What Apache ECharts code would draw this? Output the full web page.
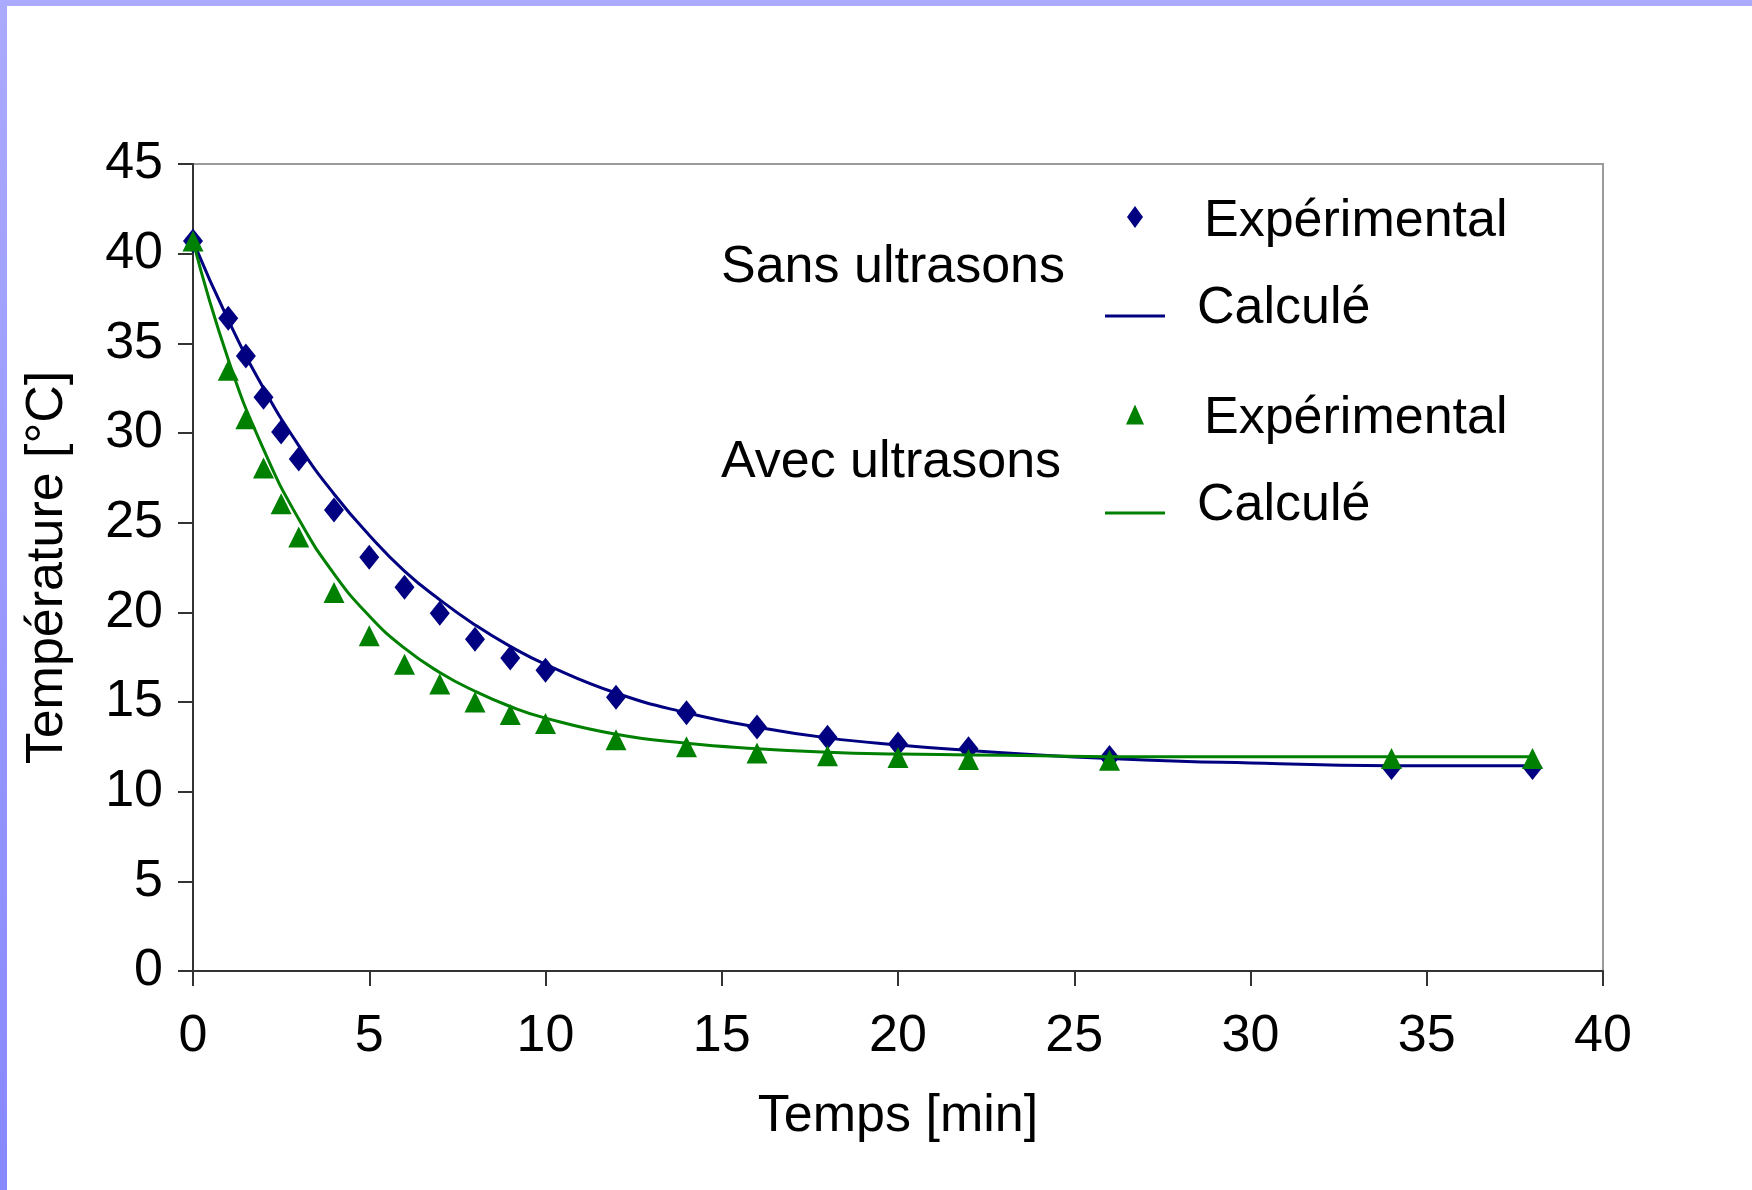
<!DOCTYPE html>
<html>
<head>
<meta charset="utf-8">
<script src="https://cdn.jsdelivr.net/npm/echarts@6/dist/echarts.min.js"></script>
<style>
html,body{margin:0;padding:0;background:#fff;}
#chart{width:1752px;height:1190px;}
</style>
</head>
<body>
<div id="chart"></div>
<script>
// ---- data ----
const timeExp = [0, 1, 1.5, 2, 2.5, 3, 4, 5, 6, 7, 8, 9, 10, 12, 14, 16, 18, 20, 22, 26, 34, 38];
const sansExp = [40.7, 36.4, 34.3, 32.0, 30.05, 28.55, 25.7, 23.07, 21.4, 19.95, 18.5, 17.46, 16.77, 15.27, 14.4, 13.6, 13.03, 12.66, 12.4, 11.9, 11.35, 11.35];
const avecExp = [40.7, 33.5, 30.8, 28.05, 26.06, 24.2, 21.1, 18.7, 17.1, 16.0, 15.0, 14.3, 13.8, 12.9, 12.5, 12.15, 12.0, 11.9, 11.8, 11.75, 11.85, 11.85];

const timeCalc = [0, 1, 2, 3, 4, 5, 6, 7, 8, 9, 10, 12, 14, 16, 18, 20, 22, 24, 26, 28, 30, 32, 34, 36, 38];
const sansCalc = [40.7, 36.3, 32.5, 29.3, 26.6, 24.3, 22.3, 20.7, 19.3, 18.1, 17.1, 15.5, 14.4, 13.6, 13.0, 12.6, 12.3, 12.05, 11.85, 11.7, 11.6, 11.5, 11.45, 11.45, 11.45];
const avecCalc = [40.7, 34.1, 29.1, 25.2, 22.15, 19.8, 18.0, 16.65, 15.6, 14.75, 14.1, 13.2, 12.7, 12.4, 12.2, 12.1, 12.05, 12.0, 11.95, 11.95, 11.95, 11.95, 11.95, 11.95, 11.95];

const xTicks = [0, 5, 10, 15, 20, 25, 30, 35, 40];
const yTicks = [0, 5, 10, 15, 20, 25, 30, 35, 40, 45];

const groupLabels = ['Sans ultrasons', 'Avec ultrasons'];
const itemLabels = { sansExp: 'Expérimental', sansCalc: 'Calculé', avecExp: 'Expérimental', avecCalc: 'Calculé' };

// ---- build ----
const zip = (xs, ys) => xs.map((x, i) => [x, ys[i]]);
const FONT = '"Liberation Sans", Arial, sans-serif';
const BLUE = '#000080';
const GREEN = '#008000';
const AXIS = '#333333';
// legend icons offset inside their boxes with tiny zero-area anchor points
const LOW_LINE = 'path://M0,0 L1,0 L0,0 Z M0,24 L1,24 L0,24 Z M0,17.5 L60,17.5 L60,20.5 L0,20.5 Z';
const HIGH_DIAMOND = 'path://M8,0 L16,11 L8,22 L0,11 Z M0,31 L0.5,31 L0,31 Z';
const HIGH_TRIANGLE = 'path://M9,0 L18,20 L0,20 Z M0,29 L0.5,29 L0,29 Z';

const chart = echarts.init(document.getElementById('chart'), null, { renderer: 'canvas' });

const legendBase = {
  orient: 'vertical',
  selectedMode: false,
  formatter: n => itemLabels[n],
  padding: 0
};
const lt = pad => ({ fontFamily: FONT, fontSize: 52, color: '#000', padding: pad });

chart.setOption({
  backgroundColor: '#ffffff',
  animation: false,
  grid: {
    left: 193, right: 149, top: 164, bottom: 219,
    show: true, borderColor: '#9a9a9a', borderWidth: 2, backgroundColor: 'transparent'
  },
  xAxis: {
    type: 'value', min: xTicks[0], max: xTicks[xTicks.length - 1], interval: 5,
    name: 'Temps [min]', nameLocation: 'middle', nameGap: 120,
    nameTextStyle: { fontFamily: FONT, fontSize: 52, color: '#000' },
    axisLine: { show: true, lineStyle: { color: AXIS, width: 2 } },
    axisTick: { show: true, inside: false, length: 15, lineStyle: { color: AXIS, width: 2 } },
    axisLabel: { fontFamily: FONT, fontSize: 52, color: '#000', margin: 40 },
    splitLine: { show: false }
  },
  yAxis: {
    type: 'value', min: yTicks[0], max: yTicks[yTicks.length - 1], interval: 5,
    name: 'Température [°C]', nameLocation: 'middle', nameGap: 119,
    nameTextStyle: { fontFamily: FONT, fontSize: 52, color: '#000' },
    axisLine: { show: true, lineStyle: { color: AXIS, width: 2 } },
    axisTick: { show: true, inside: false, length: 15, lineStyle: { color: AXIS, width: 2 } },
    axisLabel: { fontFamily: FONT, fontSize: 52, color: '#000', margin: 30, padding: [0, 0, 10, 0] },
    splitLine: { show: false }
  },
  legend: [
    Object.assign({}, legendBase, { data: [{ name: 'sansExp', icon: HIGH_DIAMOND }], left: 1127, top: 195.5, itemWidth: 16, itemHeight: 31, textStyle: lt([0, 0, 0, 56]) }),
    Object.assign({}, legendBase, { data: [{ name: 'sansCalc', icon: LOW_LINE }], left: 1105, top: 283, itemWidth: 60, itemHeight: 24, textStyle: lt([0, 0, 0, 27]) }),
    Object.assign({}, legendBase, { data: [{ name: 'avecExp', icon: HIGH_TRIANGLE }], left: 1126, top: 393, itemWidth: 18, itemHeight: 29, textStyle: lt([0, 0, 0, 55]) }),
    Object.assign({}, legendBase, { data: [{ name: 'avecCalc', icon: LOW_LINE }], left: 1105, top: 480, itemWidth: 60, itemHeight: 24, textStyle: lt([0, 0, 0, 27]) })
  ],
  graphic: [
    { type: 'rect', left: 0, top: 0, z: 100, shape: { width: 7, height: 1190 },
      style: { fill: new echarts.graphic.LinearGradient(0, 0, 0, 1, [{ offset: 0, color: '#aaaaff' }, { offset: 1, color: '#8888ff' }]) } },
    { type: 'rect', left: 0, top: 0, z: 100, shape: { width: 1752, height: 6 }, style: { fill: '#aaaaff' } },
    { type: 'text', left: 721, top: 242, style: { text: groupLabels[0], font: '52px ' + FONT, fill: '#000' } },
    { type: 'text', left: 721, top: 437, style: { text: groupLabels[1], font: '52px ' + FONT, fill: '#000' } }
  ],
  series: [
    { name: 'sansExp', type: 'scatter', data: zip(timeExp, sansExp), symbol: 'diamond', symbolSize: [20, 25],
      itemStyle: { color: BLUE, opacity: 1 }, z: 2 },
    { name: 'sansCalc', type: 'line', data: zip(timeCalc, sansCalc), smooth: 0.5, symbol: 'none',
      lineStyle: { color: BLUE, width: 3 }, itemStyle: { color: BLUE }, z: 3 },
    { name: 'avecExp', type: 'scatter', data: zip(timeExp, avecExp), symbol: 'triangle', symbolSize: [21, 21],
      itemStyle: { color: GREEN, opacity: 1 }, z: 4 },
    { name: 'avecCalc', type: 'line', data: zip(timeCalc, avecCalc), smooth: 0.5, symbol: 'none',
      lineStyle: { color: GREEN, width: 3 }, itemStyle: { color: GREEN }, z: 5 }
  ]
});
</script>
</body>
</html>
